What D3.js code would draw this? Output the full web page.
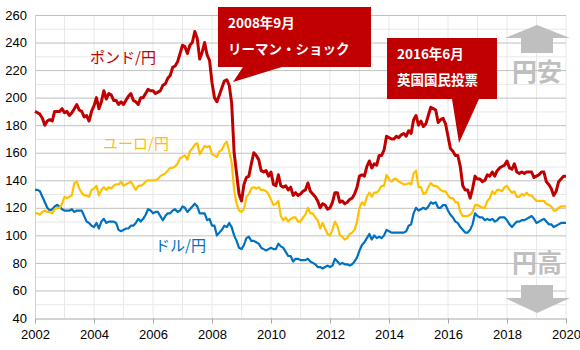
<!DOCTYPE html>
<html><head><meta charset="utf-8">
<script src="https://cdn.jsdelivr.net/npm/d3@7"></script>
<style>
body{margin:0;background:#fff;}
svg{display:block;font-family:"Liberation Sans",Arial,sans-serif;}
.jp{font-family:"Noto Sans CJK JP","Noto Sans",sans-serif;}
</style></head><body>
<svg id="c" width="580" height="350"></svg>
<script>
// monthly values, Jan 2002 .. Jan 2020
const startYear = 2002;
const usdjpy = [
133,133,132,128,124,120,118,119,121,122,121,119,
118,118,118,119,117,118,118,118,114,110,109,107,
106,109,105,110,112,109,110,110,110,109,104,103,
104,105,105,107,107,109,112,110,112,115,119,118,
116,117,117,114,111,114,116,116,118,119,117,118,
121,120,117,119,121,123,121,116,116,116,111,112,
107,107,100,102,104,107,106,109,106,100,96,91,
90,93,98,99,96,96,95,94,91,90,89,90,
91,90,90,94,92,91,88,85,85,81,83,83,
82,82,82,83,81,80,79,77,77,76,77,78,
77,78,83,81,79,80,79,79,78,79,81,84,
89,93,95,98,101,97,100,98,99,98,100,104,
103,102,102,102,102,102,102,103,107,108,116,120,
118,119,120,119,121,124,123,124,120,120,122,122,
118,115,113,110,109,106,104,102,102,104,108,116,
114,113,113,111,112,111,112,110,111,113,113,113,
111,108,106,108,110,110,111,111,112,113,114,112,
109,110,111,112,110,108,108,106,107,108,109,109,
109];
const eurjpy = [
116,116,115,117,118,117,117,116,119,120,120,123,
128,127,128,129,138,139,134,131,129,129,128,133,
134,136,129,133,135,133,135,134,136,137,137,139,
136,137,138,139,136,133,136,136,137,139,140,140,
140,140,141,143,144,145,147,149,149,150,152,156,
157,158,155,161,163,166,167,159,162,165,164,165,
159,158,157,161,162,166,168,161,153,133,123,118,
117,119,128,130,134,135,134,135,133,133,132,130,
126,122,123,125,114,111,113,110,112,113,113,110,
110,113,115,120,116,116,113,111,105,109,105,101,
100,104,110,107,100,99,97,98,101,102,104,110,
120,124,122,128,131,128,131,131,133,136,136,144,
141,139,141,141,139,138,137,137,138,137,145,147,
135,135,130,131,135,138,136,136,135,133,132,132,
129,127,127,124,124,117,114,114,114,115,117,122,
122,121,120,120,125,127,132,130,133,133,132,135,
136,133,131,132,128,128,130,129,131,129,129,127,
125,125,125,125,123,122,121,118,118,120,121,121,
121];
const gbpjpy = [
190,189,188,185,180,183,184,183,190,190,190,192,
189,190,187,189,192,195,191,190,186,187,183,190,
194,200,192,197,205,199,203,202,198,198,195,197,
195,198,201,203,198,197,195,200,200,203,206,205,
205,203,204,205,209,210,214,216,222,223,226,232,
238,237,232,238,240,248,243,228,233,240,231,227,
211,200,197,202,207,212,213,209,196,160,145,130,
125,137,142,143,152,160,158,155,147,146,147,143,
146,137,136,144,136,135,136,133,135,129,131,129,
130,132,133,138,132,130,128,125,120,123,122,119,
120,124,131,131,124,125,123,124,126,127,130,135,
143,144,143,150,154,149,152,151,158,158,162,172,
171,170,170,172,171,173,174,172,176,174,184,187,
180,183,179,181,187,193,192,191,182,184,185,181,
172,163,161,158,158,150,136,133,133,127,134,143,
141,141,139,140,144,143,146,143,147,149,150,151,
154,149,148,152,146,145,146,145,146,146,146,142,
143,144,146,146,139,137,134,129,132,139,141,143,
143];
const yearTicks = [2002,2004,2006,2008,2010,2012,2014,2016,2018,2020];
const yTicks = [40,60,80,100,120,140,160,180,200,220,240,260];
const seriesNames = ["ドル/円","ユーロ/円","ポンド/円"];
const callout1 = ["2008年9月","リーマン・ショック"];
const callout2 = ["2016年6月","英国国民投票"];

const svg = d3.select("#c");
const L=35,R=566,T=15,B=318;
const x = d3.scaleLinear().domain([2002,2020]).range([L,R]);
const y = d3.scaleLinear().domain([40,260]).range([B,T]);

// grid
const g = svg.append("g");
g.selectAll(".vg").data(d3.range(2003,2021)).join("line")
 .attr("x1",d=>x(d)).attr("x2",d=>x(d)).attr("y1",T).attr("y2",B)
 .attr("stroke","#e8e8e8").attr("stroke-width",1);
g.selectAll(".mg").data(d3.range(50,261,20)).join("line")
 .attr("x1",L).attr("x2",R).attr("y1",d=>y(d)+0.5).attr("y2",d=>y(d)+0.5)
 .attr("stroke","#e8e8e8").attr("stroke-width",1);
g.selectAll(".hg").data(yTicks.slice(1)).join("line")
 .attr("x1",L).attr("x2",R).attr("y1",d=>y(d)+0.5).attr("y2",d=>y(d)+0.5)
 .attr("stroke","#c0c0c0").attr("stroke-width",1);

// axes
const xa = svg.append("g").attr("transform",`translate(0,${B+0.5})`)
 .call(d3.axisBottom(x).tickValues(yearTicks).tickFormat(d3.format("d")).tickSize(5).tickSizeOuter(0).tickPadding(6));
xa.select(".domain").attr("stroke","#a6a6a6");
xa.selectAll(".tick line").attr("stroke","#a6a6a6");
xa.selectAll("text").attr("font-size",13).attr("fill","#000");
const ya = svg.append("g").attr("transform",`translate(${L},0)`)
 .call(d3.axisLeft(y).tickValues(yTicks).tickSize(0).tickPadding(8));
ya.select(".domain").remove();
ya.selectAll("text").attr("font-size",13).attr("fill","#000");
svg.append("line").attr("x1",L+0.5).attr("x2",L+0.5).attr("y1",T).attr("y2",B).attr("stroke","#d0d0d0");

// lines
const toPts = arr => arr.map((v,i)=>({t:startYear+i/12, v}));
const line = d3.line().x(d=>x(d.t)).y(d=>y(d.v)).curve(d3.curveLinear);
const series = [
 {data:usdjpy,color:"#0070c0",w:2.2},
 {data:eurjpy,color:"#ffc000",w:2.2},
 {data:gbpjpy,color:"#c00000",w:3}
];
series.forEach(s=>{
 svg.append("path").attr("d",line(toPts(s.data))).attr("fill","none")
  .attr("stroke",s.color).attr("stroke-width",s.w).attr("stroke-linejoin","round");
});

// series labels
const lab = [
 {t:seriesNames[2],x:90,y:63,c:"#c00000"},
 {t:seriesNames[1],x:103,y:149,c:"#ffc000"},
 {t:seriesNames[0],x:155,y:251,c:"#0070c0"}
];
svg.selectAll(".sl").data(lab).join("text").attr("class","jp")
 .attr("x",d=>d.x).attr("y",d=>d.y).attr("fill",d=>d.c).attr("font-size",15)
 .text(d=>d.t);

// callouts
function callout(bx,by,bw,bh,ptr,lines){
 const p = `M${bx},${by}H${bx+bw}V${by+bh}H${ptr[2]}L${ptr[0]},${ptr[1]}L${ptr[3]},${by+bh}H${bx}Z`;
 svg.append("path").attr("d",p).attr("fill","#c00000");
 lines.forEach((t,i)=>svg.append("text").attr("class","jp").attr("x",bx+10).attr("y",by+21+i*26)
   .attr("fill","#fff").attr("font-size",13.5).attr("font-weight","bold").text(t));
}
callout(218,7,153,60,[233,82,282,243],callout1);
callout(387,38,110,61,[459,143,479,452],callout2);

// arrows
const gray="#bfbfbf";
svg.append("path").attr("d","M505,38L537,25L570,38H553V53H521V38Z").attr("fill",gray);
svg.append("path").attr("d","M521,285H553V298H570L537,313L505,298H521Z").attr("fill",gray);
svg.append("text").attr("class","jp").attr("x",537).attr("y",81).attr("text-anchor","middle")
 .attr("font-size",25).attr("font-weight","bold").attr("fill",gray).text("円安");
svg.append("text").attr("class","jp").attr("x",537).attr("y",272).attr("text-anchor","middle")
 .attr("font-size",25).attr("font-weight","bold").attr("fill",gray).text("円高");
</script></body></html>
